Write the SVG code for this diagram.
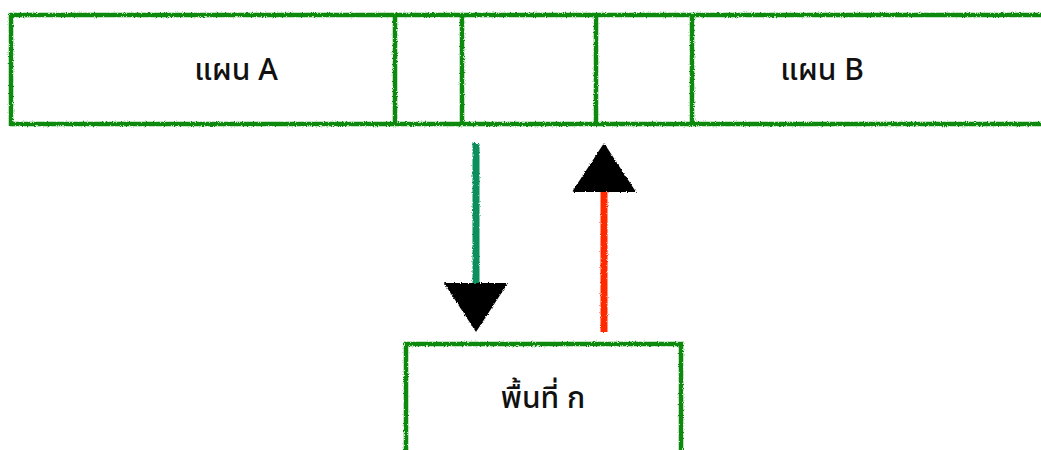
<svg xmlns="http://www.w3.org/2000/svg" width="1041" height="450" viewBox="0 0 1041 450">
  <style>
    .box { fill: #ffffff; stroke: #0a8a0a; stroke-width: 4.5; filter: url(#rough); }
    .div { stroke: #0a8a0a; stroke-width: 4.5; filter: url(#rough); }
    .lbl { font-family: "Noto Sans", "Noto Sans Thai", "DejaVu Sans", sans-serif; font-size: 30px; font-weight: 500; fill: #111111; text-anchor: middle; }
    .link { fill: none; stroke-width: 7; filter: url(#rough); }
  </style>
  <defs>
    <filter id="rough" filterUnits="userSpaceOnUse" x="0" y="0" width="1041" height="450">
      <feTurbulence type="fractalNoise" baseFrequency="0.9" numOctaves="2" seed="3" result="n"/>
      <feDisplacementMap in="SourceGraphic" in2="n" scale="3" xChannelSelector="R" yChannelSelector="G"/>
    </filter>
    <marker id="head" markerUnits="userSpaceOnUse" viewBox="0 0 49 64" refX="0" refY="32" markerWidth="49" markerHeight="64" orient="auto">
      <path d="M0,0 L49,32 L0,64 Z" fill="#000000"/>
    </marker>
  </defs>

  <g id="plan-bar">
    <rect class="box" x="11" y="15" width="1040" height="109"/>
    <line class="div" x1="395" y1="15" x2="395" y2="124"/>
    <line class="div" x1="462" y1="15" x2="462" y2="124"/>
    <line class="div" x1="596" y1="15" x2="596" y2="124"/>
    <line class="div" x1="692" y1="15" x2="692" y2="124"/>
  </g>
  <g id="plan-a">
    <text class="lbl" x="236" y="80">แผน A</text>
  </g>
  <g id="plan-b">
    <text class="lbl" x="822" y="80">แผน B</text>
  </g>
  <g id="area-k">
    <rect class="box" x="406" y="344" width="275" height="130"/>
    <text class="lbl" x="543" y="408">พื้นที่ ก</text>
  </g>

  <g id="connectors">
    <line class="link" x1="476" y1="143" x2="476" y2="283" stroke="#0a8f5c" marker-end="url(#head)"/>
    <line class="link" x1="604" y1="332" x2="604" y2="192" stroke="#ff2a00" marker-end="url(#head)"/>
  </g>
</svg>
